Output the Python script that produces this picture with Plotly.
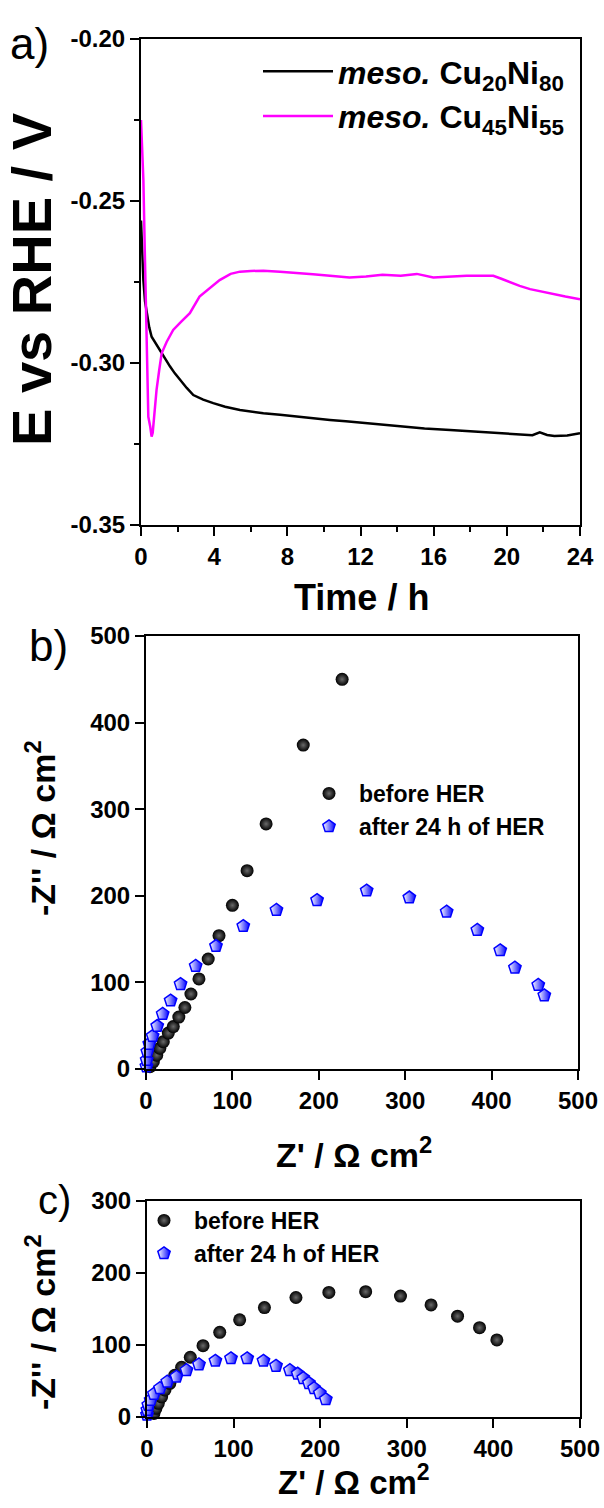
import plotly.graph_objects as go

# ---------------- Panel a: chronopotentiometry ----------------
t_cu20 = [0.0, 0.05, 0.13, 0.22, 0.31, 0.45, 0.58, 0.8, 1.04, 1.3, 1.59, 1.85, 2.13, 2.5, 2.86, 3.4, 3.95, 4.6, 5.41, 6.0, 6.69, 7.6, 8.51, 9.4, 10.33, 11.2, 12.3, 13.2, 14.16, 15.5, 16.9, 18.2, 19.6, 20.5, 21.4, 21.8, 22.2, 22.6, 23.3, 24.0]
e_cu20 = [-0.256, -0.266, -0.2744, -0.281, -0.2846, -0.289, -0.2919, -0.294, -0.296, -0.2985, -0.3011, -0.3032, -0.3052, -0.3077, -0.3099, -0.3113, -0.3124, -0.3135, -0.3145, -0.315, -0.3155, -0.316, -0.3166, -0.3171, -0.3176, -0.318, -0.3186, -0.319, -0.3197, -0.3202, -0.3207, -0.3212, -0.3217, -0.322, -0.3223, -0.3214, -0.3222, -0.3225, -0.3224, -0.3217]

t_cu45 = [0.0, 0.06, 0.13, 0.22, 0.31, 0.4, 0.5, 0.58, 0.64, 0.72, 0.85, 1.0, 1.13, 1.4, 1.76, 2.2, 2.67, 3.2, 3.7, 4.3, 4.9, 5.41, 6.0, 6.69, 7.6, 8.51, 9.4, 10.33, 11.4, 12.3, 13.2, 14.2, 15.08, 15.98, 16.9, 17.8, 18.5, 19.26, 19.7, 20.2, 20.7, 21.27, 21.9, 22.5, 23.2, 24.0]
e_cu45 = [-0.225, -0.233, -0.2435, -0.269, -0.29, -0.3166, -0.3195, -0.3227, -0.3215, -0.316, -0.3083, -0.302, -0.297, -0.2935, -0.2898, -0.2872, -0.2846, -0.2795, -0.2772, -0.2744, -0.2725, -0.2718, -0.2716, -0.2715, -0.2718, -0.2721, -0.2726, -0.2731, -0.2736, -0.2733, -0.2728, -0.2731, -0.2725, -0.2736, -0.2733, -0.2731, -0.2731, -0.2731, -0.274, -0.2752, -0.2762, -0.2772, -0.278, -0.2787, -0.2795, -0.2803]

a_xticks = [0, 4, 8, 12, 16, 20, 24]
a_yticks = [-0.35, -0.30, -0.25, -0.20]
a_yticktext = ["-0.35", "-0.30", "-0.25", "-0.20"]

# ---------------- Panel b: EIS of Cu20Ni80 ----------------
b_before_x = [4.6, 8.5, 12.4, 16, 20, 25.8, 31.6, 38, 45, 52, 61.3, 72, 84.5, 100, 117, 139, 182, 227]
b_before_y = [2.7, 8.5, 16, 24, 31.5, 41.5, 49, 60, 71, 86.6, 104, 127, 154, 189, 229, 283, 374, 450]
b_after_x = [0.5, 0.8, 1.5, 3.8, 7.7, 13, 19.3, 28.5, 40, 57.5, 81, 112.6, 151, 198, 255.4, 304.8, 348, 383.5, 410, 427, 454, 461]
b_after_y = [3, 10.4, 20, 29, 38, 49.6, 63.5, 79, 98, 119, 142, 165, 183.6, 195, 206, 198, 181.6, 160.5, 137, 117, 97, 85]

# ---------------- Panel c: EIS of Cu45Ni55 ----------------
c_before_x = [8, 10.3, 13, 16.9, 20.7, 26.4, 32, 40, 50, 64.7, 84, 107, 135.6, 172, 210, 252.5, 292.7, 328, 358.6, 384, 404]
c_before_y = [5, 12, 19, 28, 37.5, 46.8, 58, 69, 83, 99, 117.6, 135, 152, 166, 173, 174, 168, 155.6, 140, 124, 107]
c_after_x = [0, 0.4, 1.5, 4.2, 8, 15, 23.4, 34, 45.6, 60, 79, 97, 115.7, 134.5, 149, 165, 174, 180.5, 187, 193, 199.6, 206.5]
c_after_y = [3, 9.7, 16.7, 23.6, 32, 40, 49, 56, 65, 73, 78, 81.5, 81.5, 78, 71, 65, 60, 54, 47, 40, 33, 24.5]

z_ticks = [0, 100, 200, 300, 400, 500]
c_yticks = [0, 100, 200, 300]

W, H = 604, 1508
FONT = "Liberation Sans"


def px_x(p):
    return p / W


def px_y(p):
    return 1 - p / H


sphere = dict(symbol="circle", size=13, color="#000000",
              gradient=dict(type="radial", color="#6a6a6a"),
              line=dict(width=0))
penta = dict(symbol="pentagon", size=13, color="white",
             gradient=dict(type="horizontal", color="#0000ff"),
             line=dict(width=1.5, color="#0000ff"))

fig = go.Figure()

fig.add_trace(go.Scatter(x=t_cu20, y=e_cu20, mode="lines", xaxis="x", yaxis="y",
                         line=dict(color="black", width=2.5),
                         name="<b><i>meso.</i> Cu<sub>20</sub>Ni<sub>80</sub></b>", legend="legend"))
fig.add_trace(go.Scatter(x=t_cu45, y=e_cu45, mode="lines", xaxis="x", yaxis="y",
                         line=dict(color="#ff00ff", width=2.5),
                         name="<b><i>meso.</i> Cu<sub>45</sub>Ni<sub>55</sub></b>", legend="legend"))

fig.add_trace(go.Scatter(x=b_before_x, y=b_before_y, mode="markers", xaxis="x2", yaxis="y2",
                         marker=sphere, cliponaxis=False, name="<b>before HER</b>", legend="legend2"))
fig.add_trace(go.Scatter(x=b_after_x, y=b_after_y, mode="markers", xaxis="x2", yaxis="y2",
                         marker=penta, cliponaxis=False, name="<b>after 24 h of HER</b>", legend="legend2"))

fig.add_trace(go.Scatter(x=c_before_x, y=c_before_y, mode="markers", xaxis="x3", yaxis="y3",
                         marker=sphere, cliponaxis=False, name="<b>before HER</b>", legend="legend3"))
fig.add_trace(go.Scatter(x=c_after_x, y=c_after_y, mode="markers", xaxis="x3", yaxis="y3",
                         marker=penta, cliponaxis=False, name="<b>after 24 h of HER</b>", legend="legend3"))

tickfont = dict(family=FONT, size=24, color="black", weight="bold")
axis_common = dict(showline=True, linecolor="black", linewidth=2, mirror=True,
                   ticks="outside", ticklen=9, tickwidth=2, tickcolor="black",
                   showgrid=False, zeroline=False, tickfont=tickfont, automargin=False)

fig.update_layout(
    width=W, height=H, margin=dict(l=0, r=0, t=0, b=0, autoexpand=False),
    paper_bgcolor="white", plot_bgcolor="white",
    font=dict(family=FONT, color="black"),
    xaxis=dict(domain=[px_x(141), px_x(580)], anchor="y", range=[0, 24],
               tickvals=a_xticks, minor=dict(ticks="outside", ticklen=5, tickwidth=2,
                                             tickcolor="black", dtick=2, showgrid=False),
               **axis_common),
    yaxis=dict(domain=[px_y(525), px_y(39)], anchor="x", range=[-0.35, -0.20],
               tickvals=a_yticks, ticktext=a_yticktext,
               minor=dict(ticks="outside", ticklen=5, tickwidth=2, tickcolor="black",
                          dtick=0.025, tick0=-0.35, showgrid=False),
               **axis_common),
    xaxis2=dict(domain=[px_x(146), px_x(578)], anchor="y2", range=[0, 500],
                tickvals=z_ticks, **axis_common),
    yaxis2=dict(domain=[px_y(1069), px_y(636)], anchor="x2", range=[0, 500],
                tickvals=z_ticks, **axis_common),
    xaxis3=dict(domain=[px_x(147), px_x(580)], anchor="y3", range=[0, 500],
                tickvals=z_ticks, **axis_common),
    yaxis3=dict(domain=[px_y(1417), px_y(1201)], anchor="x3", range=[0, 300],
                tickvals=c_yticks, **axis_common),
    legend=dict(x=px_x(258), y=px_y(44), xanchor="left", yanchor="top",
                bgcolor="rgba(0,0,0,0)", font=dict(family=FONT, size=32, color="black"),
                tracegroupgap=0, itemwidth=70),
    legend2=dict(x=px_x(299), y=px_y(772), xanchor="left", yanchor="top",
                 bgcolor="rgba(0,0,0,0)", font=dict(family=FONT, size=23, color="black"),
                 tracegroupgap=0, itemwidth=50),
    legend3=dict(x=px_x(134), y=px_y(1199), xanchor="left", yanchor="top",
                 bgcolor="rgba(0,0,0,0)", font=dict(family=FONT, size=23, color="black"),
                 tracegroupgap=0, itemwidth=50),
)

ann = []


def add_text(text, x, y, size, angle=0, bold=True):
    ann.append(dict(text=text, x=px_x(x), y=px_y(y), xref="paper", yref="paper",
                    showarrow=False, xanchor="center", yanchor="middle", textangle=angle,
                    font=dict(family=FONT, size=size, color="black",
                              weight="bold" if bold else "normal")))


add_text("a)", 30, 44, 44, bold=False)
add_text("b)", 48, 645, 44, bold=False)
add_text("c)", 54, 1200, 40, bold=False)
add_text("E vs RHE / V", 31, 280, 56, angle=-90)
add_text("Time / h", 362, 597, 36)
add_text("-Z'' / Ω cm<sup>2</sup>", 40, 828, 34, angle=-90)
add_text("Z' / Ω cm<sup>2</sup>", 354, 1152, 34)
add_text("-Z'' / Ω cm<sup>2</sup>", 40, 1322, 34, angle=-90)
add_text("Z' / Ω cm<sup>2</sup>", 354, 1480, 33)

fig.update_layout(annotations=ann)

fig.write_html(
    "out.html",
    config={"displayModeBar": False},
    post_script="document.body.style.margin='0';document.body.style.padding='0';"
                "document.body.style.overflow='hidden';"
                "document.documentElement.style.overflow='hidden';",
)
